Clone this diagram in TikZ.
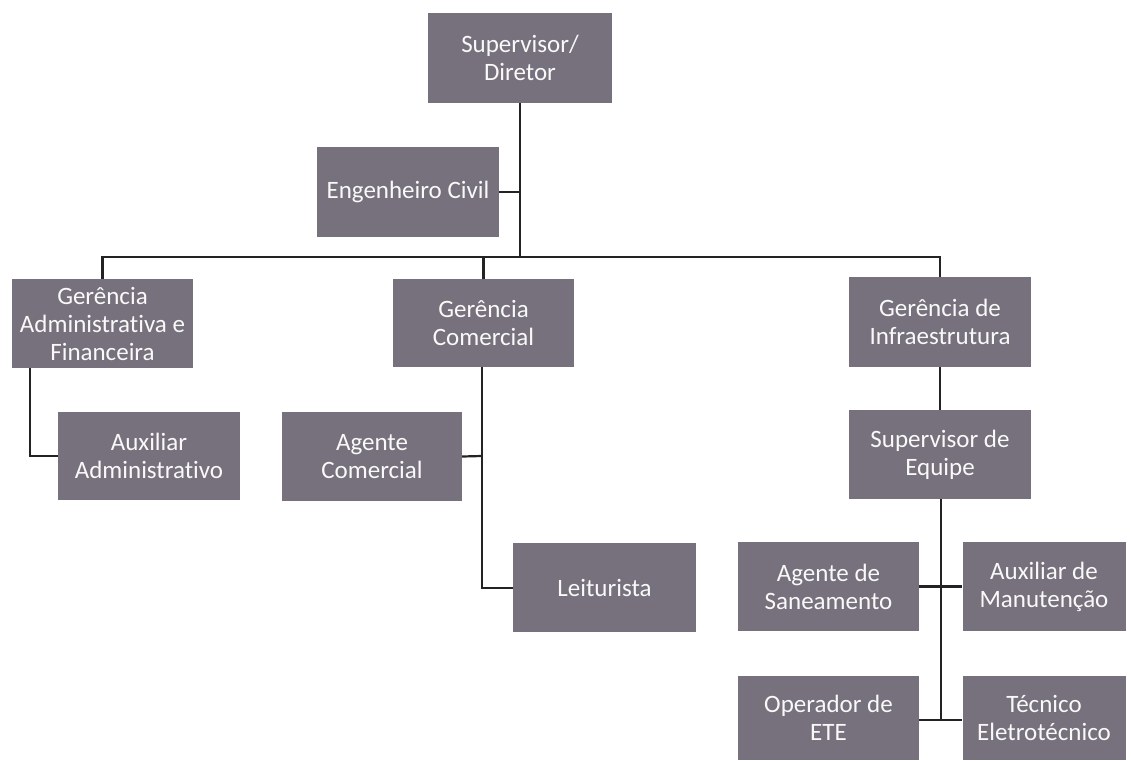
\documentclass[tikz,border=0pt]{standalone}
\usepackage{fontspec}
\setmainfont[Ligatures=NoCommon]{Carlito}
\definecolor{boxgray}{RGB}{118,113,124}
\definecolor{linec}{RGB}{35,35,35}
\tikzset{
  orgbox/.style={rectangle, fill=boxgray, text=white!95!gray, inner sep=0pt, align=center,
    font=\fontsize{25}{28}\selectfont},
  link/.style={draw=linec, line width=2.2pt}
}
\begin{document}
\begin{tikzpicture}[x=1pt,y=-1pt]
\useasboundingbox (0,0) rectangle (1131,760);
\node[orgbox, minimum width=184pt, minimum height=90pt] (sup) at (520,58) {Supervisor/\\Diretor};
\node[orgbox, minimum width=182pt, minimum height=90pt] (eng) at (408,192) {Engenheiro Civil};
\node[orgbox, minimum width=181pt, minimum height=89pt] (gaf) at (102.5,323.5) {Gerência\\Administrativa e\\Financeira};
\node[orgbox, minimum width=181pt, minimum height=88pt] (gc) at (483.5,323) {Gerência\\Comercial};
\node[orgbox, minimum width=182pt, minimum height=90pt] (gi) at (940,322) {Gerência de\\Infraestrutura};
\node[orgbox, minimum width=182pt, minimum height=88pt] (aux) at (149,456) {Auxiliar\\Administrativo};
\node[orgbox, minimum width=180pt, minimum height=89pt] (ac) at (372,456.5) {Agente\\Comercial};
\node[orgbox, minimum width=183pt, minimum height=89pt] (lei) at (604.5,587.5) {Leiturista};
\node[orgbox, minimum width=182pt, minimum height=89pt] (se) at (940,454.5) {Supervisor de\\Equipe};
\node[orgbox, minimum width=181pt, minimum height=89pt] (as) at (828.5,586.5) {Agente de\\Saneamento};
\node[orgbox, minimum width=163pt, minimum height=89pt] (am) at (1044,586.5) {Auxiliar de\\Manutenção};
\node[orgbox, minimum width=181pt, minimum height=84pt] (op) at (828.5,718) {Operador de\\ETE};
\node[orgbox, minimum width=163pt, minimum height=84pt] (te) at (1044,718) {Técnico\\Eletrotécnico};

\coordinate (bus) at (520,257);
\coordinate (engj) at (520,192);
\coordinate (gcj) at (482,456);
\coordinate (gcl) at (482,588);
\coordinate (sej1) at (941,586.5);
\coordinate (sej2) at (941,720);

\draw[link] (sup.south) -- (bus);
\draw[link] (eng.east) -- (engj);
\draw[link] (gaf.north) |- (bus) -| (gi.north);
\draw[link] (gc.north) -- (gc.north |- bus);
\draw[link] (gaf.south -| 30,0) |- (aux.west);
\draw[link] (gc.south -| gcj) -- (gcl) -- (lei.west |- gcl);
\draw[link] (ac.east) -- (gcj);
\draw[link] (gi.south) -- (se.north);
\draw[link] (se.south -| sej1) -- (sej2);
\draw[link] (as.east) -- (am.west);
\draw[link] (op.east |- sej2) -- (te.west |- sej2);
\end{tikzpicture}
\end{document}
